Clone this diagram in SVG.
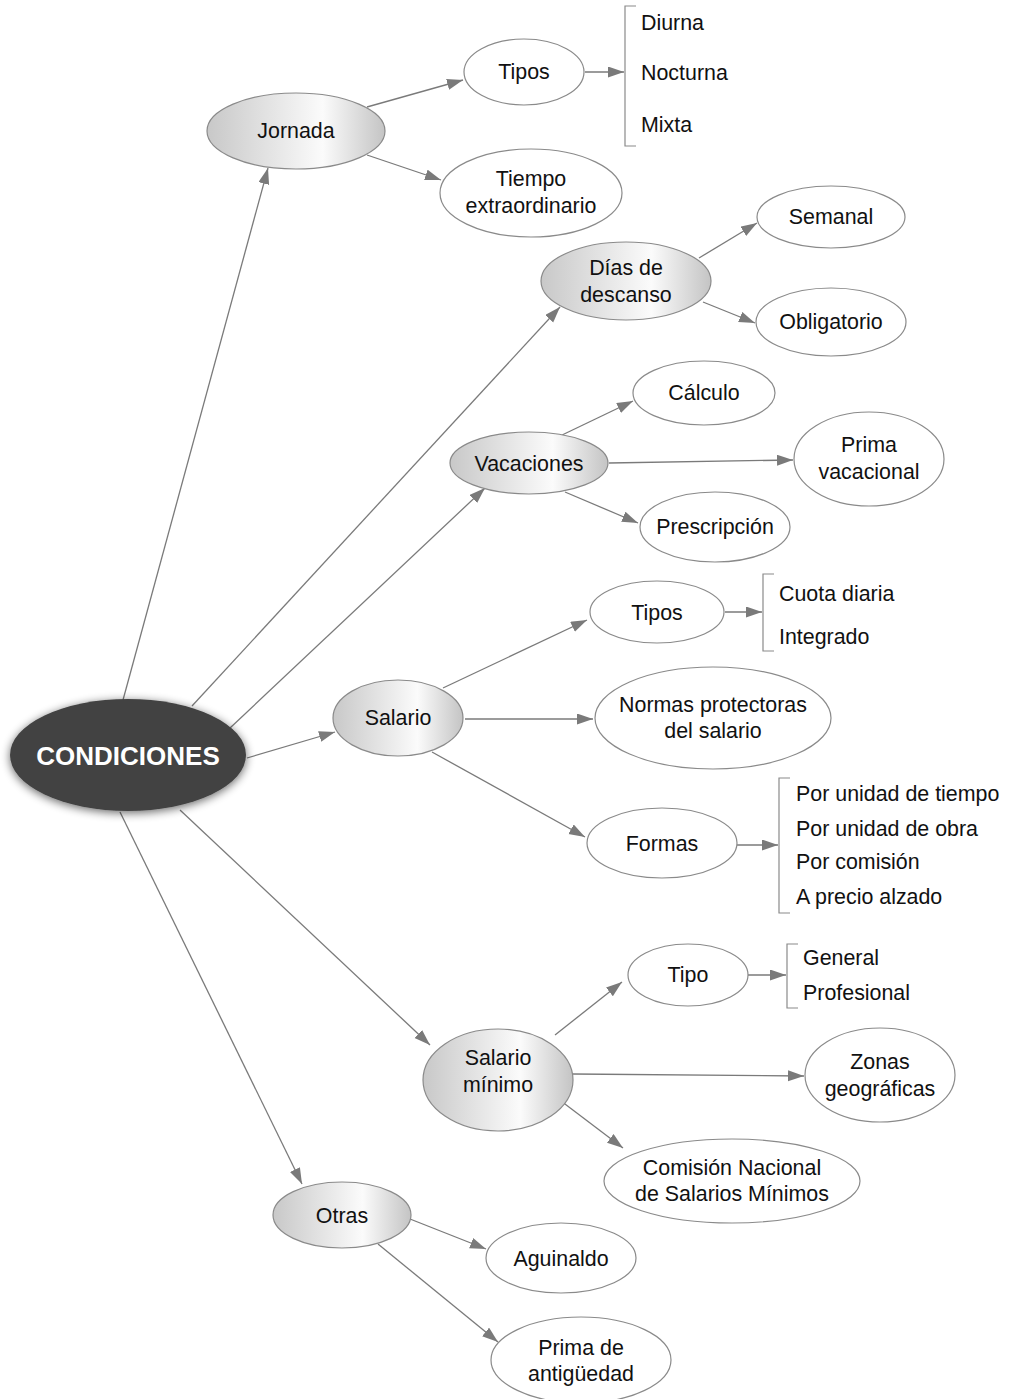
<svg xmlns="http://www.w3.org/2000/svg" width="1011" height="1399" viewBox="0 0 1011 1399">
<style>
.bg{fill:#fff}
.e{stroke:#8a8a8a;stroke-width:1.2}
.w{fill:#fff}
.g{fill:url(#grad)}
.t{font-family:"Liberation Sans",Arial,sans-serif;font-size:21.4px;fill:#111;text-anchor:middle}
.l{font-family:"Liberation Sans",Arial,sans-serif;font-size:21.4px;fill:#111}
.c{stroke:#7a7a7a;stroke-width:1.3;fill:none;marker-end:url(#ah)}
.b{stroke:#8a8a8a;stroke-width:1.2;fill:none}
</style>
<defs>
<linearGradient id="grad" x1="0" y1="0" x2="1" y2="0">
<stop offset="0" stop-color="#c8c8c8"/>
<stop offset="0.65" stop-color="#fbfbfb"/>
<stop offset="1" stop-color="#c4c4c4"/>
</linearGradient>
<filter id="sh" x="-30%" y="-30%" width="160%" height="160%">
<feGaussianBlur in="SourceAlpha" stdDeviation="5"/>
<feOffset dx="0" dy="2" result="b"/>
<feComponentTransfer><feFuncA type="linear" slope="0.6"/></feComponentTransfer>
<feMerge><feMergeNode/><feMergeNode in="SourceGraphic"/></feMerge>
</filter>
<marker id="ah" markerWidth="17" markerHeight="12" refX="16" refY="5.5" orient="auto" markerUnits="userSpaceOnUse">
<path d="M0,0 L16,5.5 L0,11 z" fill="#7a7a7a"/>
</marker>
</defs>
<rect class="bg" x="0" y="0" width="1011" height="1399"/>

<g id="connectors">
<line class="c" x1="123" y1="700" x2="268" y2="168"/>
<line class="c" x1="192" y1="706" x2="560" y2="307"/>
<line class="c" x1="230" y1="728" x2="485" y2="488"/>
<line class="c" x1="247" y1="758" x2="335" y2="732"/>
<line class="c" x1="180" y1="810" x2="430" y2="1045"/>
<line class="c" x1="120" y1="812" x2="302" y2="1184"/>

<line class="c" x1="367" y1="107" x2="463" y2="80"/>
<line class="c" x1="367" y1="155" x2="441" y2="180"/>
<line class="c" x1="585" y1="72" x2="624" y2="72"/>

<line class="c" x1="699" y1="258" x2="757" y2="223"/>
<line class="c" x1="703" y1="302" x2="755" y2="323"/>

<line class="c" x1="560" y1="436" x2="633" y2="401"/>
<line class="c" x1="609" y1="463" x2="793" y2="460"/>
<line class="c" x1="565" y1="492" x2="638" y2="523"/>

<line class="c" x1="443" y1="688" x2="587" y2="620"/>
<line class="c" x1="465" y1="719" x2="593" y2="719"/>
<line class="c" x1="432" y1="752" x2="585" y2="837"/>
<line class="c" x1="725" y1="612" x2="762" y2="612"/>
<line class="c" x1="737" y1="845" x2="778" y2="845"/>

<line class="c" x1="555" y1="1035" x2="622" y2="982"/>
<line class="c" x1="573" y1="1074" x2="804" y2="1076"/>
<line class="c" x1="561" y1="1101" x2="623" y2="1148"/>
<line class="c" x1="748" y1="975" x2="786" y2="975"/>

<line class="c" x1="410" y1="1219" x2="486" y2="1249"/>
<line class="c" x1="378" y1="1244" x2="498" y2="1342"/>

<path class="b" d="M636,6 H625 V146 H636"/>
<path class="b" d="M774,574 H763 V651 H774"/>
<path class="b" d="M790,778 H779 V913 H790"/>
<path class="b" d="M798,944 H787 V1008 H798"/>
</g>

<g id="n-condiciones">
<ellipse cx="128" cy="755" rx="118" ry="56" fill="#424242" filter="url(#sh)"/>
<text x="128" y="765" font-family="'Liberation Sans',Arial,sans-serif" font-size="26" font-weight="bold" fill="#fff" text-anchor="middle">CONDICIONES</text>
</g>

<g id="n-jornada"><ellipse class="e g" cx="296" cy="131" rx="89" ry="38"/><text class="t" x="296" y="138">Jornada</text></g>
<g id="n-tipos1"><ellipse class="e w" cx="524" cy="72" rx="60" ry="33"/><text class="t" x="524" y="79">Tipos</text></g>
<g id="n-tipos1-list">
<text class="l" x="641" y="30">Diurna</text>
<text class="l" x="641" y="80">Nocturna</text>
<text class="l" x="641" y="132">Mixta</text>
</g>
<g id="n-tiempo"><ellipse class="e w" cx="531" cy="193" rx="91" ry="44"/><text class="t" x="531" y="186">Tiempo</text><text class="t" x="531" y="213">extraordinario</text></g>

<g id="n-dias"><ellipse class="e g" cx="626" cy="281" rx="85" ry="39"/><text class="t" x="626" y="275">Días de</text><text class="t" x="626" y="302">descanso</text></g>
<g id="n-semanal"><ellipse class="e w" cx="831" cy="217" rx="74" ry="31"/><text class="t" x="831" y="224">Semanal</text></g>
<g id="n-obligatorio"><ellipse class="e w" cx="831" cy="322" rx="75" ry="34"/><text class="t" x="831" y="329">Obligatorio</text></g>

<g id="n-vacaciones"><ellipse class="e g" cx="529" cy="463" rx="79" ry="31"/><text class="t" x="529" y="471">Vacaciones</text></g>
<g id="n-calculo"><ellipse class="e w" cx="704" cy="393" rx="71" ry="32"/><text class="t" x="704" y="400">Cálculo</text></g>
<g id="n-prima-vac"><ellipse class="e w" cx="869" cy="459" rx="75" ry="47"/><text class="t" x="869" y="452">Prima</text><text class="t" x="869" y="479">vacacional</text></g>
<g id="n-prescripcion"><ellipse class="e w" cx="715" cy="527" rx="75" ry="35"/><text class="t" x="715" y="534">Prescripción</text></g>

<g id="n-salario"><ellipse class="e g" cx="398" cy="718" rx="65" ry="38"/><text class="t" x="398" y="725">Salario</text></g>
<g id="n-tipos2"><ellipse class="e w" cx="657" cy="612" rx="67" ry="31"/><text class="t" x="657" y="620">Tipos</text></g>
<g id="n-tipos2-list">
<text class="l" x="779" y="601">Cuota diaria</text>
<text class="l" x="779" y="644">Integrado</text>
</g>
<g id="n-normas"><ellipse class="e w" cx="713" cy="718" rx="118" ry="51"/><text class="t" x="713" y="712">Normas protectoras</text><text class="t" x="713" y="738">del salario</text></g>
<g id="n-formas"><ellipse class="e w" cx="662" cy="843" rx="75" ry="35"/><text class="t" x="662" y="851">Formas</text></g>
<g id="n-formas-list">
<text class="l" x="796" y="801">Por unidad de tiempo</text>
<text class="l" x="796" y="836">Por unidad de obra</text>
<text class="l" x="796" y="869">Por comisión</text>
<text class="l" x="796" y="904">A precio alzado</text>
</g>

<g id="n-salario-minimo"><ellipse class="e g" cx="498" cy="1080" rx="75" ry="51"/><text class="t" x="498" y="1065">Salario</text><text class="t" x="498" y="1092">mínimo</text></g>
<g id="n-tipo"><ellipse class="e w" cx="688" cy="975" rx="60" ry="31"/><text class="t" x="688" y="982">Tipo</text></g>
<g id="n-tipo-list">
<text class="l" x="803" y="965">General</text>
<text class="l" x="803" y="1000">Profesional</text>
</g>
<g id="n-zonas"><ellipse class="e w" cx="880" cy="1075" rx="75" ry="47"/><text class="t" x="880" y="1069">Zonas</text><text class="t" x="880" y="1096">geográficas</text></g>
<g id="n-comision"><ellipse class="e w" cx="732" cy="1181" rx="128" ry="42"/><text class="t" x="732" y="1175">Comisión Nacional</text><text class="t" x="732" y="1201">de Salarios Mínimos</text></g>

<g id="n-otras"><ellipse class="e g" cx="342" cy="1215" rx="69" ry="33"/><text class="t" x="342" y="1223">Otras</text></g>
<g id="n-aguinaldo"><ellipse class="e w" cx="561" cy="1258" rx="75" ry="35"/><text class="t" x="561" y="1266">Aguinaldo</text></g>
<g id="n-prima-ant"><ellipse class="e w" cx="581" cy="1360" rx="90" ry="43"/><text class="t" x="581" y="1355">Prima de</text><text class="t" x="581" y="1381">antigüedad</text></g>
</svg>
